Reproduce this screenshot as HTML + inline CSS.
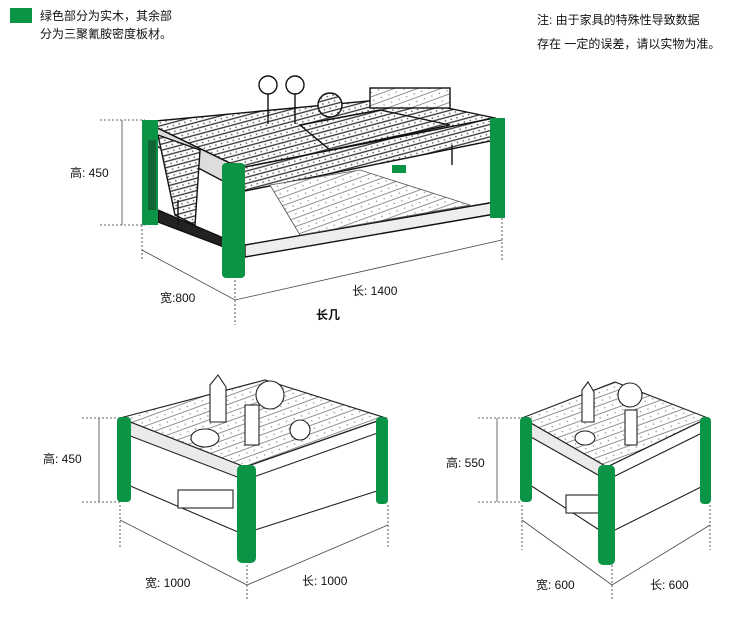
<!DOCTYPE html>
<html><head><meta charset="utf-8"><style>
body{margin:0;background:#fff;width:750px;height:643px;overflow:hidden;font-family:"Liberation Sans","Noto Sans CJK SC",sans-serif}
svg{position:absolute;left:0;top:0}
.t{font-family:"Liberation Sans","Noto Sans CJK SC",sans-serif;font-size:12px;fill:#111}
</style></head><body>
<svg width="750" height="643" viewBox="0 0 750 643">
<defs>
<pattern id="h1" width="6" height="6" patternUnits="userSpaceOnUse" patternTransform="rotate(-15)">
<rect width="6" height="6" fill="#fff"/><line x1="0" y1="1" x2="6" y2="1" stroke="#333" stroke-width="1.3"/><circle cx="3" cy="4" r="0.8" fill="#444"/>
</pattern>
<pattern id="h2" width="8" height="8" patternUnits="userSpaceOnUse" patternTransform="rotate(-20)">
<rect width="8" height="8" fill="#fff"/><line x1="0" y1="2" x2="8" y2="2" stroke="#777" stroke-width="0.8"/><circle cx="5" cy="6" r="0.7" fill="#888"/>
</pattern>
</defs>
<rect x="10" y="8" width="22" height="15" fill="#0b9445"/>
<text class="t" x="40" y="20">绿色部分为实木，其余部</text>
<text class="t" x="40" y="38">分为三聚氰胺密度板材。</text>
<text class="t" x="537" y="24" font-size="11">注: 由于家具的特殊性导致数据</text>
<text class="t" x="537" y="48" font-size="11">存在  一定的误差，请以实物为准。</text>

<!-- top table -->
<g stroke="#111" fill="none" stroke-width="1.4">
<polygon points="145,122 400,98 495,118 240,168" fill="url(#h1)"/>
<polygon points="145,122 240,168 240,190 145,140" fill="#ddd"/>
<polygon points="240,168 495,118 495,140 240,192" fill="url(#h1)"/>
<polygon points="158,135 200,150 195,225 175,215" fill="url(#h1)"/>
<polygon points="300,125 380,110 450,125 330,150" fill="url(#h1)"/>
<polygon points="158,210 240,245 245,255 158,222" fill="#222"/>
<polygon points="245,245 495,202 495,214 245,257" fill="#eee"/>
<polygon points="290,210 340,193 370,215 320,230" fill="url(#h2)"/>
<polygon points="270,185 360,170 470,205 300,235" fill="url(#h2)" stroke="#555" stroke-width="0.8"/>
<circle cx="268" cy="85" r="9"/><circle cx="295" cy="85" r="9"/><circle cx="330" cy="105" r="12" fill="url(#h1)"/>
<path d="M268,94 v30 M295,94 v30"/>
<rect x="370" y="88" width="80" height="20" fill="url(#h2)"/>
<path d="M178,200 v25 M452,145 v20"/>
</g>
<g stroke="#333" stroke-dasharray="2,2" stroke-width="0.8" fill="none">
<line x1="100" y1="120" x2="145" y2="120"/><line x1="100" y1="225" x2="145" y2="225"/>
<line x1="142" y1="225" x2="142" y2="260"/><line x1="235" y1="280" x2="235" y2="325"/><line x1="502" y1="218" x2="502" y2="262"/>
</g>
<g stroke="#444" stroke-width="0.8" fill="none">
<line x1="122" y1="120" x2="122" y2="225"/>
<polyline points="142,250 235,300 502,240"/>
</g>
<rect x="142" y="120" width="16" height="105" fill="#0b9445"/>
<rect x="148" y="140" width="8" height="70" fill="#116633"/>
<rect x="222" y="163" width="23" height="115" rx="4" fill="#0b9445"/>
<rect x="490" y="118" width="15" height="100" fill="#0b9445"/>
<rect x="392" y="165" width="14" height="8" fill="#0b9445"/>
<text class="t" x="70" y="177">高: 450</text>
<text class="t" x="160" y="302">宽:800</text>
<text class="t" x="352" y="295">长: 1400</text>
<text class="t" x="316" y="319" font-size="16" font-weight="bold">长几</text>

<!-- bottom left table -->
<g stroke="#222" fill="none" stroke-width="1.1">
<polygon points="120,418 265,380 386,418 245,467" fill="url(#h2)"/>
<polygon points="120,418 245,467 245,480 120,432" fill="#eaeaea"/>
<polygon points="245,467 386,418 386,430 245,480"/>
<polyline points="128,485 245,535"/><polyline points="255,530 380,490"/>
<rect x="178" y="490" width="55" height="18" fill="#fff"/>
<path d="M210,385 l8,-10 l8,12 v35 h-16z" fill="#fff"/><circle cx="270" cy="395" r="14" fill="#fff"/><circle cx="300" cy="430" r="10" fill="#fff"/>
<ellipse cx="205" cy="438" rx="14" ry="9" fill="#fff"/><rect x="245" y="405" width="14" height="40" fill="#fff"/>
</g>
<g stroke="#333" stroke-dasharray="2,2" stroke-width="0.8" fill="none">
<line x1="82" y1="418" x2="120" y2="418"/><line x1="82" y1="502" x2="120" y2="502"/>
<line x1="120" y1="505" x2="120" y2="548"/><line x1="247" y1="565" x2="247" y2="600"/><line x1="388" y1="505" x2="388" y2="548"/>
</g>
<g stroke="#444" stroke-width="0.8" fill="none">
<line x1="99" y1="418" x2="99" y2="502"/>
<polyline points="120,520 247,585 388,525"/>
</g>
<rect x="117" y="417" width="14" height="85" rx="4" fill="#0b9445"/>
<rect x="237" y="465" width="19" height="98" rx="5" fill="#0b9445"/>
<rect x="376" y="417" width="12" height="87" rx="4" fill="#0b9445"/>
<text class="t" x="43" y="463">高: 450</text>
<text class="t" x="145" y="587">宽: 1000</text>
<text class="t" x="302" y="585">长: 1000</text>

<!-- bottom right table -->
<g stroke="#222" fill="none" stroke-width="1.1">
<polygon points="522,418 615,382 708,418 607,467" fill="url(#h2)"/>
<polygon points="522,418 607,467 607,480 522,432" fill="#eaeaea"/>
<polygon points="607,467 708,418 708,430 607,480"/>
<polyline points="530,485 607,535"/><polyline points="615,530 705,485"/>
<rect x="566" y="495" width="35" height="18" fill="#fff"/>
<path d="M582,390 l6,-8 l6,10 v30 h-12z" fill="#fff"/><circle cx="630" cy="395" r="12" fill="#fff"/>
<ellipse cx="585" cy="438" rx="10" ry="7" fill="#fff"/><rect x="625" y="410" width="12" height="35" fill="#fff"/>
</g>
<g stroke="#333" stroke-dasharray="2,2" stroke-width="0.8" fill="none">
<line x1="478" y1="418" x2="522" y2="418"/><line x1="478" y1="502" x2="522" y2="502"/>
<line x1="522" y1="505" x2="522" y2="550"/><line x1="612" y1="565" x2="612" y2="600"/><line x1="710" y1="505" x2="710" y2="550"/>
</g>
<g stroke="#444" stroke-width="0.8" fill="none">
<line x1="497" y1="418" x2="497" y2="502"/>
<polyline points="522,520 612,585 710,525"/>
</g>
<rect x="520" y="417" width="12" height="85" rx="4" fill="#0b9445"/>
<rect x="598" y="465" width="17" height="100" rx="5" fill="#0b9445"/>
<rect x="700" y="417" width="11" height="87" rx="4" fill="#0b9445"/>
<text class="t" x="446" y="467">高: 550</text>
<text class="t" x="536" y="589">宽: 600</text>
<text class="t" x="650" y="589">长: 600</text>
</svg>
</body></html>
